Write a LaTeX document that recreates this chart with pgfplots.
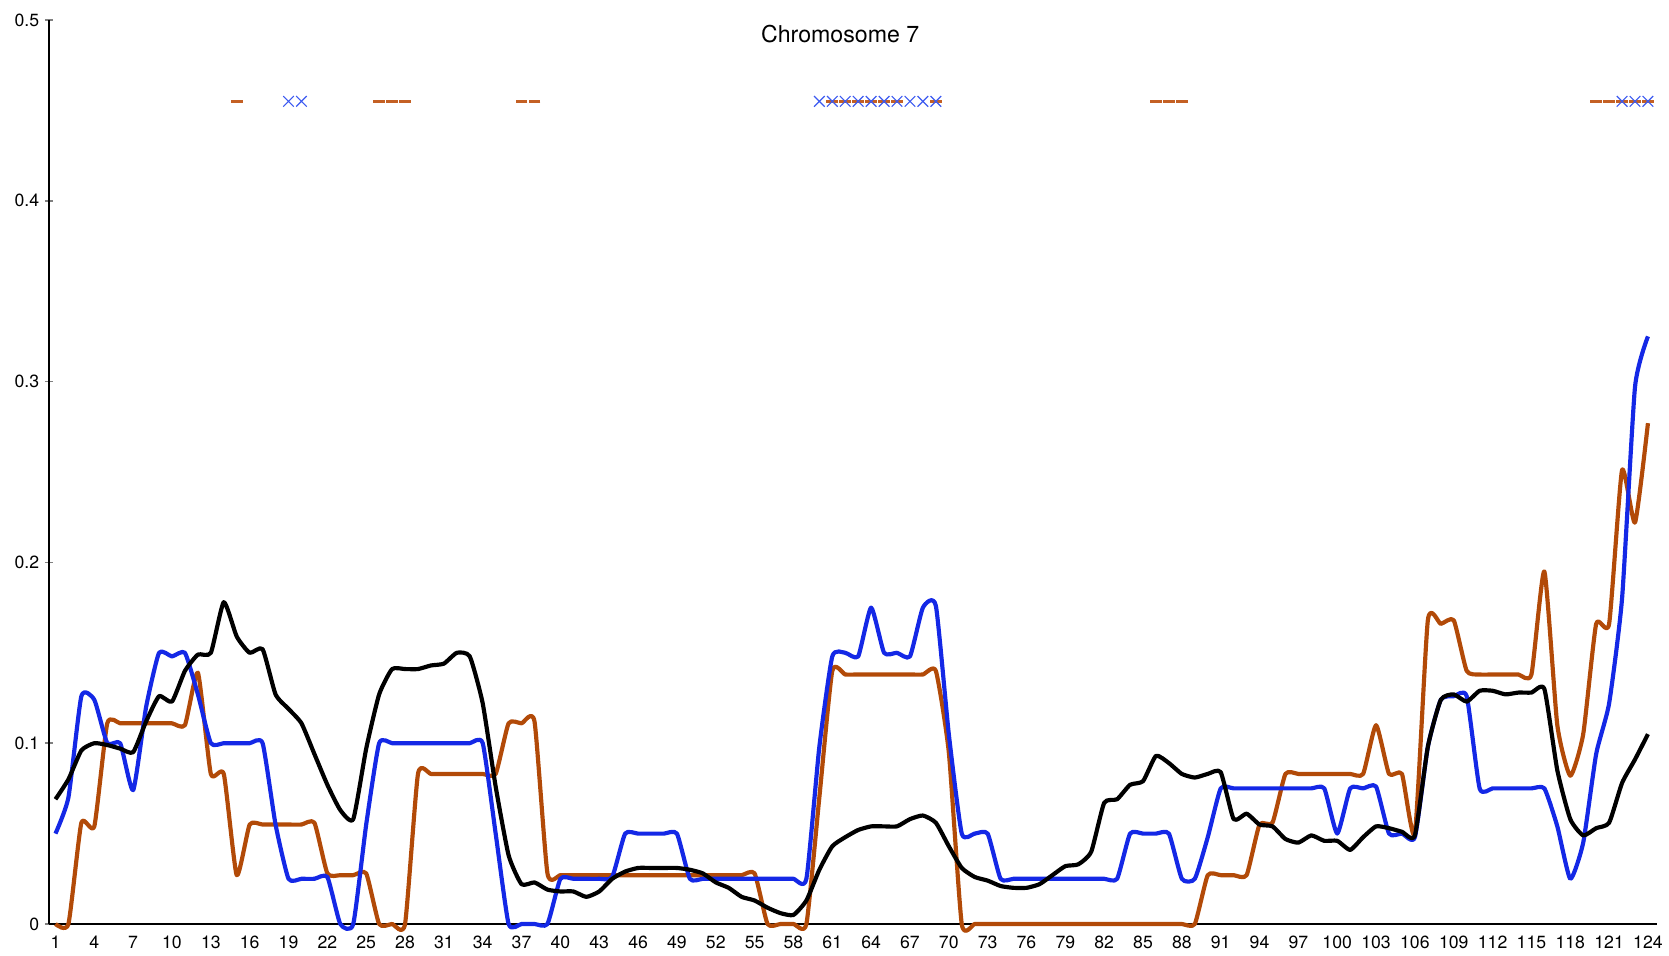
\documentclass[border=0pt]{standalone}
\usepackage{fontspec}
\setmainfont{TeX Gyre Heros}
\usepackage{pgfplots}
\usepackage{pgfplotstable}
\pgfplotsset{compat=1.18}

\definecolor{cblue}{RGB}{20,40,230}
\definecolor{corange}{RGB}{178,74,8}
\definecolor{mblue}{RGB}{60,90,240}
\definecolor{morange}{RGB}{196,96,36}

% x: position, blue / orange / black curves
\pgfplotstableread{
x blue orange black
1 0.050 0.000 0.069
2 0.070 0.000 0.080
3 0.126 0.056 0.096
4 0.124 0.054 0.100
5 0.100 0.111 0.099
6 0.100 0.111 0.097
7 0.074 0.111 0.095
8 0.120 0.111 0.112
9 0.150 0.111 0.126
10 0.148 0.111 0.123
11 0.150 0.110 0.140
12 0.127 0.139 0.149
13 0.100 0.083 0.150
14 0.100 0.083 0.178
15 0.100 0.027 0.159
16 0.100 0.055 0.150
17 0.100 0.055 0.152
18 0.055 0.055 0.127
19 0.025 0.055 0.119
20 0.025 0.055 0.111
21 0.025 0.056 0.094
22 0.026 0.028 0.077
23 0.000 0.027 0.063
24 0.000 0.027 0.058
25 0.055 0.028 0.097
26 0.100 0.000 0.127
27 0.100 0.000 0.141
28 0.100 0.000 0.141
29 0.100 0.083 0.141
30 0.100 0.083 0.143
31 0.100 0.083 0.144
32 0.100 0.083 0.150
33 0.100 0.083 0.148
34 0.100 0.083 0.122
35 0.050 0.083 0.076
36 0.000 0.111 0.038
37 0.000 0.111 0.022
38 0.000 0.112 0.023
39 0.000 0.028 0.019
40 0.025 0.027 0.018
41 0.025 0.027 0.018
42 0.025 0.027 0.015
43 0.025 0.027 0.018
44 0.026 0.027 0.025
45 0.050 0.027 0.029
46 0.050 0.027 0.031
47 0.050 0.027 0.031
48 0.050 0.027 0.031
49 0.050 0.027 0.031
50 0.025 0.027 0.030
51 0.025 0.027 0.028
52 0.025 0.027 0.023
53 0.025 0.027 0.020
54 0.025 0.027 0.015
55 0.025 0.028 0.013
56 0.025 0.000 0.009
57 0.025 0.000 0.006
58 0.025 0.000 0.005
59 0.025 0.000 0.013
60 0.098 0.070 0.030
61 0.148 0.140 0.043
62 0.150 0.138 0.048
63 0.148 0.138 0.052
64 0.175 0.138 0.054
65 0.150 0.138 0.054
66 0.150 0.138 0.054
67 0.148 0.138 0.058
68 0.175 0.138 0.060
69 0.176 0.140 0.056
70 0.105 0.095 0.043
71 0.050 0.000 0.031
72 0.050 0.000 0.026
73 0.050 0.000 0.024
74 0.025 0.000 0.021
75 0.025 0.000 0.020
76 0.025 0.000 0.020
77 0.025 0.000 0.022
78 0.025 0.000 0.027
79 0.025 0.000 0.032
80 0.025 0.000 0.033
81 0.025 0.000 0.040
82 0.025 0.000 0.067
83 0.025 0.000 0.069
84 0.050 0.000 0.077
85 0.050 0.000 0.079
86 0.050 0.000 0.093
87 0.050 0.000 0.089
88 0.025 0.000 0.083
89 0.025 0.000 0.081
90 0.048 0.027 0.083
91 0.075 0.027 0.084
92 0.075 0.027 0.058
93 0.075 0.027 0.061
94 0.075 0.055 0.055
95 0.075 0.056 0.054
96 0.075 0.083 0.047
97 0.075 0.083 0.045
98 0.075 0.083 0.049
99 0.075 0.083 0.046
100 0.050 0.083 0.046
101 0.075 0.083 0.041
102 0.075 0.083 0.048
103 0.076 0.110 0.054
104 0.050 0.083 0.053
105 0.050 0.083 0.051
106 0.048 0.050 0.049
107 0.098 0.168 0.098
108 0.124 0.166 0.124
109 0.126 0.168 0.127
110 0.126 0.140 0.123
111 0.075 0.138 0.129
112 0.075 0.138 0.129
113 0.075 0.138 0.127
114 0.075 0.138 0.128
115 0.075 0.138 0.128
116 0.075 0.195 0.130
117 0.054 0.110 0.085
118 0.025 0.082 0.058
119 0.045 0.105 0.049
120 0.094 0.166 0.053
121 0.122 0.166 0.056
122 0.180 0.251 0.078
123 0.297 0.222 0.091
124 0.325 0.277 0.105
}\chromdata

\begin{document}
\begin{tikzpicture}
\begin{axis}[
    scale only axis,
    width=964.8pt, height=542.4pt,
    xmin=0.5, xmax=124.7,
    ymin=0, ymax=0.5,
    axis x line=bottom, axis y line=left,
    axis line style={-, line width=0.9pt},
    xtick={1,4,...,124},
    ytick={0,0.1,0.2,0.3,0.4,0.5},
    tick align=center,
    major tick length=4.8pt,
    x tick style={draw=none},
    y tick style={line width=0.9pt},
    tick label style={font=\fontsize{10.6}{12}\selectfont},
    xticklabel style={yshift=-1.5pt},
    /pgf/number format/assume math mode=true,
    clip=false,
]
\addplot[corange, line width=2.5pt, line join=round, smooth, tension=0.32] table[x=x, y=orange] {\chromdata};
\addplot[cblue, line width=2.5pt, line join=round, smooth, tension=0.32] table[x=x, y=blue] {\chromdata};
\addplot[black, line width=2.5pt, line join=round, smooth, tension=0.32] table[x=x, y=black] {\chromdata};

\addplot[only marks, mark=-, mark size=3.5pt, mark options={line width=1.4pt, draw=morange}]
    coordinates {(15,0.455) (26,0.455) (27,0.455) (28,0.455) (37,0.455) (38,0.455)
    (61,0.455) (62,0.455) (63,0.455) (64,0.455) (65,0.455) (66,0.455) (69,0.455)
    (86,0.455) (87,0.455) (88,0.455)
    (120,0.455) (121,0.455) (122,0.455) (123,0.455) (124,0.455)};
\addplot[only marks, mark=x, mark size=4.5pt, mark options={line width=0.7pt, draw=mblue}]
    coordinates {(19,0.455) (20,0.455)
    (60,0.455) (61,0.455) (62,0.455) (63,0.455) (64,0.455) (65,0.455) (66,0.455)
    (67,0.455) (68,0.455) (69,0.455)
    (122,0.455) (123,0.455) (124,0.455)};

\node[font=\fontsize{13.9}{16}\selectfont] at (rel axis cs:0.492,0.9845) {Chromosome 7};
\end{axis}
\path ([shift={(-29.4pt,-18.6pt)}]current axis.south west) rectangle ([shift={(7.2pt,12pt)}]current axis.north east);
\end{tikzpicture}
\end{document}
